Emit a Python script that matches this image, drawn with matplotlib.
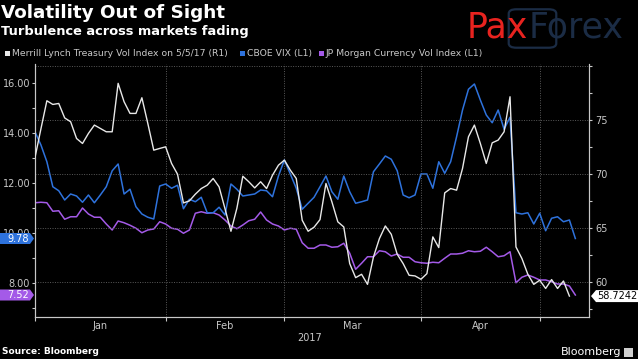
import matplotlib
matplotlib.use("Agg")
import matplotlib.pyplot as plt
from matplotlib.patches import Polygon, FancyBboxPatch, Rectangle

# ---------------- data ----------------
months = ["Jan", "Feb", "Mar", "Apr"]
month_bounds = [22, 42, 65, 85]          # trading-day index of first day of Feb, Mar, Apr, May
month_mids = [11, 32, 53.5, 75]
year_label = "2017"

merrill_tvi = [71.54, 74.2, 76.79, 76.45, 76.54, 75.2, 74.85, 73.3, 72.84, 73.77,
               74.54, 74.23, 73.92, 73.92, 78.4, 76.7, 75.62, 75.62, 77.07, 74.69,
               72.22, 72.38, 72.53, 70.99, 70.0, 67.34, 67.53, 68.15, 68.67, 68.98,
               69.6, 68.83, 66.8, 64.72, 66.85, 69.81, 69.3, 68.73, 69.3, 68.67,
               69.91, 70.83, 71.3, 70.37, 69.6, 65.74, 64.72, 65.1, 65.8, 69.14,
               67.44, 65.59, 65.12, 61.73, 60.43, 60.74, 59.81, 62.34, 64.04, 65.21,
               64.44, 62.59, 61.73, 60.65, 60.59, 60.28, 60.8, 64.2, 63.21, 68.27,
               68.67, 68.52, 70.53, 73.46, 74.54, 72.84, 70.99, 72.9, 73.15, 73.92,
               77.16, 63.27, 62.2, 60.74, 59.81, 60.19, 59.43, 60.25, 59.43, 60.12,
               58.7242]

cboe_vix = [14.05, 13.52, 12.85, 11.85, 11.69, 11.32, 11.56, 11.48, 11.23, 11.52,
            11.21, 11.52, 11.85, 12.49, 12.76, 11.56, 11.75, 11.05, 10.76, 10.63,
            10.56, 11.88, 11.96, 11.79, 11.91, 10.97, 11.35, 11.25, 11.43, 10.81,
            10.81, 11.03, 10.72, 11.96, 11.75, 11.48, 11.52, 11.56, 11.72, 11.69,
            11.45, 12.28, 12.92, 12.36, 11.79, 10.95, 11.19, 11.43, 11.85, 12.28,
            11.65, 11.35, 12.28, 11.65, 11.19, 11.25, 11.32, 12.45, 12.76, 13.08,
            12.95, 12.49, 11.52, 11.41, 11.52, 12.36, 12.36, 11.79, 12.85, 12.39,
            12.85, 13.85, 14.92, 15.75, 15.96, 15.32, 14.72, 14.41, 14.92, 14.15,
            14.63, 10.81, 10.76, 10.81, 10.36, 10.79, 10.09, 10.59, 10.65, 10.45,
            10.52, 9.78]

jpm_fx_vol = [11.21, 11.23, 11.21, 10.87, 10.89, 10.55, 10.65, 10.65, 11.0, 10.76,
              10.63, 10.63, 10.36, 10.12, 10.48, 10.41, 10.31, 10.19, 10.01, 10.12,
              10.16, 10.45, 10.36, 10.19, 10.15, 9.99, 10.12, 10.79, 10.85, 10.79,
              10.81, 10.72, 10.52, 10.28, 10.17, 10.32, 10.49, 10.55, 10.84, 10.52,
              10.36, 10.28, 10.12, 10.19, 10.15, 9.61, 9.39, 9.39, 9.52, 9.52,
              9.43, 9.45, 9.59, 9.19, 8.55, 8.79, 9.05, 9.05, 9.29, 9.25,
              9.08, 9.16, 9.03, 9.03, 8.85, 8.81, 8.79, 8.83, 8.81, 8.99,
              9.16, 9.16, 9.19, 9.29, 9.25, 9.27, 9.43, 9.25, 9.05, 9.09,
              9.25, 8.01, 8.23, 8.32, 8.23, 8.12, 8.12, 8.05, 7.96, 7.96,
              7.88, 7.52]

series_labels = ["Merrill Lynch Treasury Vol Index on 5/5/17 (R1)",
                 "CBOE VIX (L1)",
                 "JP Morgan Currency Vol Index (L1)"]
left_ticks = [8, 10, 12, 14, 16]
right_ticks = [60, 65, 70, 75, 80]

# ---------------- style ----------------
W, H = 638, 359
BG = "black"
C_WHITE = "#e8e8e8"
C_BLUE = "#2e72dc"
C_PURPLE = "#a45ae8"
C_TICK = "#c8c8c8"
C_GRID = "#5a5a5a"
plt.rcParams["font.family"] = ["DejaVu Sans"]

def fx(x):
    return x / W

def fy(y):
    return 1 - y / H

fig = plt.figure(figsize=(W / 100, H / 100), dpi=100, facecolor=BG)
ax = fig.add_axes([fx(35), fy(317), (589 - 35) / W, (317 - 64) / H])
ax.set_facecolor(BG)
ax2 = ax.twinx()

x_l = list(range(len(cboe_vix)))
x_r = list(range(len(merrill_tvi)))

ax.plot(x_l, jpm_fx_vol, color=C_PURPLE, lw=1.1, zorder=3)
ax.plot(x_l, cboe_vix, color=C_BLUE, lw=1.1, zorder=4)
ax2.plot(x_r, merrill_tvi, color=C_WHITE, lw=1.0, zorder=5)

ax.set_xlim(0, 93.3)
ax.set_ylim(6.64, 16.76)
ax2.set_ylim(56.79, 80.19)

# ticks left
ax.set_yticks(left_ticks)
ax.set_yticklabels([f"{v:.2f}" for v in left_ticks])
ax.set_yticks([7, 9, 11, 13, 15], minor=True)
ax.tick_params(axis="y", which="both", colors=C_TICK, labelsize=7, length=2.5, width=0.8, pad=1)
# ticks right
ax2.set_yticks(right_ticks)
ax2.set_yticklabels([str(v) if v != 80 else "" for v in right_ticks])
ax2.set_yticks([57.5, 62.5, 67.5, 72.5, 77.5], minor=True)
ax2.tick_params(axis="y", which="both", colors=C_TICK, labelsize=7, length=2.5, width=0.8, pad=2)
# x ticks
ax.set_xticks([0] + month_bounds)
ax.set_xticklabels([""] * (len(month_bounds) + 1))
ax.set_xticks(month_mids, minor=True)
ax.set_xticklabels(months, minor=True)
ax.tick_params(axis="x", which="major", colors=C_TICK, length=3, width=0.8)
ax.tick_params(axis="x", which="minor", colors=C_TICK, length=0, labelsize=7, pad=3)

# grids
for b in month_bounds:
    ax.axvline(b, color=C_GRID, lw=0.7, ls=(0, (1, 1.5)), zorder=1)
ax2.grid(axis="y", which="major", color=C_GRID, lw=0.7, ls=(0, (1, 1.5)))

for a in (ax, ax2):
    a.spines["top"].set_visible(False)
    for s in ("left", "right", "bottom"):
        a.spines[s].set_color(C_TICK)
        a.spines[s].set_linewidth(0.8)

fig.text(fx(310), fy(338), year_label, color=C_TICK, fontsize=7, ha="center", va="center")

# titles
fig.text(fx(1), fy(13), "Volatility Out of Sight", color="white", fontsize=13.2,
         fontweight="bold", ha="left", va="center")
fig.text(fx(1), fy(32), "Turbulence across markets fading", color="white", fontsize=9.4,
         fontweight="bold", ha="left", va="center")

# legend
leg_items = [(5, C_WHITE, series_labels[0]), (240, C_BLUE, series_labels[1]),
             (319, C_PURPLE, series_labels[2])]
for xp, col, lab in leg_items:
    fig.patches.append(Rectangle((fx(xp), fy(56)), 5 / W, 5 / H, transform=fig.transFigure,
                                 facecolor=col, edgecolor="none"))
    fig.text(fx(xp + 7), fy(53.5), lab, color=C_TICK, fontsize=6.7, ha="left", va="center")

# value tags
def ypix(a, v):
    return a.transData.transform((0, v))[1]

def left_tag(val, col, txtcol):
    yc = ypix(ax, val)
    pts = [(0, yc - 5.5), (30, yc - 5.5), (34, yc), (30, yc + 5.5), (0, yc + 5.5)]
    fig.patches.append(Polygon(pts, closed=True, transform=None, facecolor=col,
                               edgecolor="none", zorder=10))
    fig.text(29 / W, yc / H, f"{val:.2f}", color=txtcol, fontsize=7, ha="right",
             va="center", zorder=11)

def right_tag(val, col, txtcol):
    yc = ypix(ax2, val)
    pts = [(591, yc), (596, yc - 6), (638, yc - 6), (638, yc + 6), (596, yc + 6)]
    fig.patches.append(Polygon(pts, closed=True, transform=None, facecolor=col,
                               edgecolor="none", zorder=10))
    fig.text(597 / W, yc / H, f"{val:.4f}", color=txtcol, fontsize=7, ha="left",
             va="center", zorder=11)

left_tag(cboe_vix[-1], C_BLUE, "white")
left_tag(jpm_fx_vol[-1], C_PURPLE, "white")
right_tag(merrill_tvi[-1], "white", "black")

# footer
fig.text(fx(2), fy(352), "Source: Bloomberg", color="white", fontsize=6.5,
         fontweight="bold", ha="left", va="center")
fig.text(fx(621), fy(352), "Bloomberg", color="white", fontsize=8, ha="right", va="center")
fig.patches.append(Rectangle((fx(624), fy(357)), 9 / W, 9 / H, transform=fig.transFigure,
                             facecolor="#d0d0d0", edgecolor="none"))

# PaxForex logo
fig.patches.append(FancyBboxPatch((fx(510), fy(47)), 45 / W, 37 / H,
                                  boxstyle="round,pad=0.002,rounding_size=0.012",
                                  transform=fig.transFigure, facecolor="none",
                                  edgecolor="#1b2c45", lw=1.6))
t1 = fig.text(fx(467), fy(28), "Pax", color="#e8231f", fontsize=25, ha="left", va="center")
renderer = fig.canvas.get_renderer()
bb = t1.get_window_extent(renderer)
fig.text(bb.x1 / W, fy(28), "Forex", color="#1b2c45", fontsize=25,
         ha="left", va="center")

fig.savefig("out.png", dpi=100, facecolor=BG)
